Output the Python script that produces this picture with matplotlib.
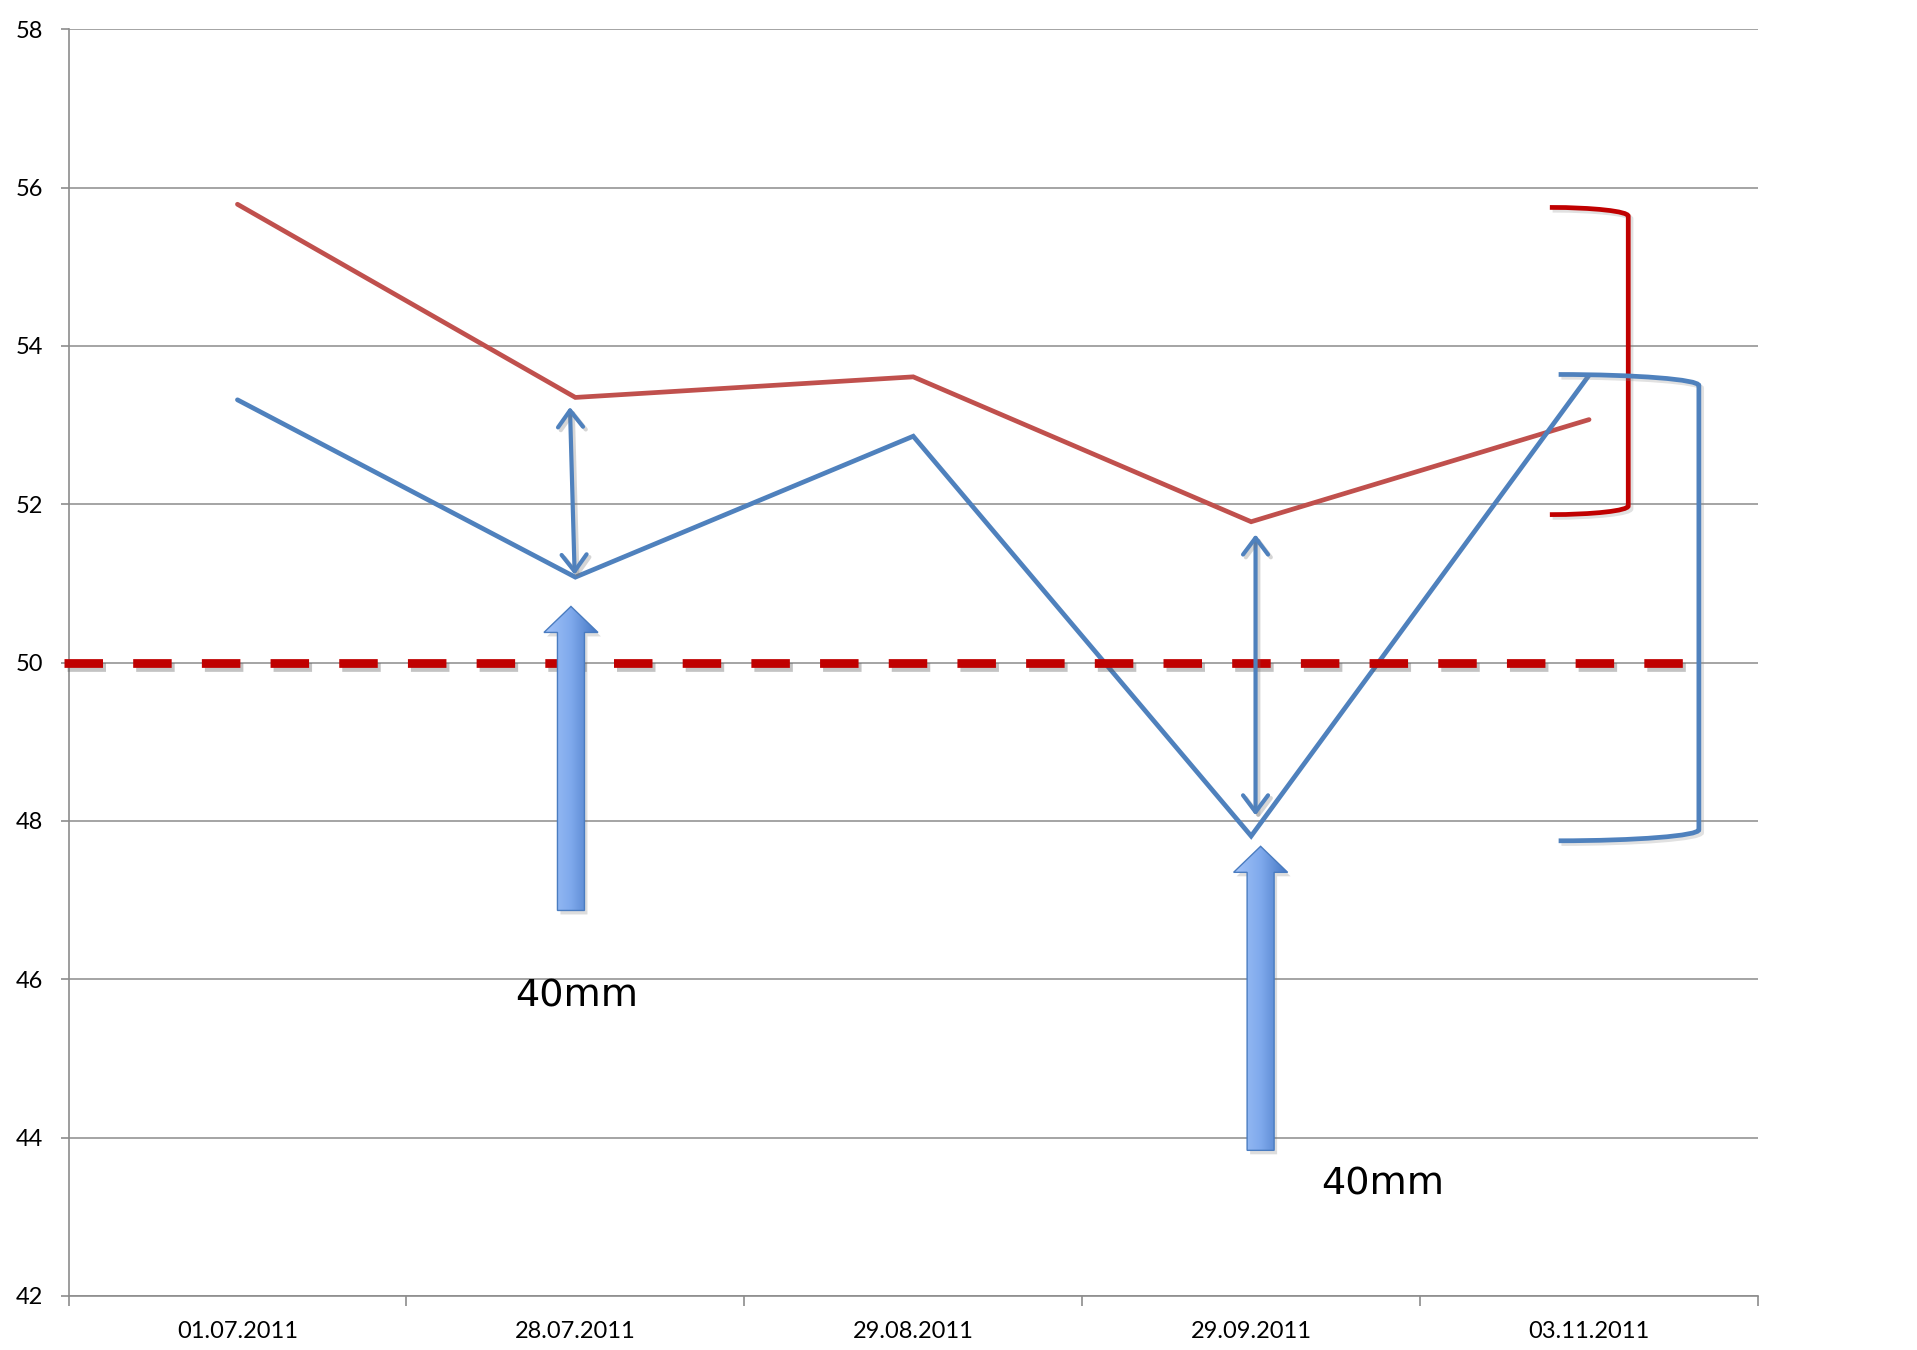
import numpy as np
import matplotlib
matplotlib.use("Agg")
import matplotlib.pyplot as plt
from matplotlib.path import Path
from matplotlib.patches import PathPatch, Polygon
from matplotlib.colors import LinearSegmentedColormap
import matplotlib.patheffects as pe

# ---- data -------------------------------------------------------------
dates = ["01.07.2011", "28.07.2011", "29.08.2011", "29.09.2011", "03.11.2011"]
red_series = [55.79, 53.35, 53.61, 51.78, 53.07]
blue_series = [53.32, 51.08, 52.86, 47.81, 53.63]
threshold = 50
y_ticks = [42, 44, 46, 48, 50, 52, 54, 56, 58]
gap_label = "40mm"

RED = "#C0504D"
BLUE = "#4F81BD"
DARK_RED = "#C00000"
GRID = "#8C8C8C"

W, H = 1917, 1350
fig = plt.figure(figsize=(W / 100, H / 100), dpi=100)
ax = fig.add_axes([68.5 / W, 54 / H, (1758 - 68.5) / W, (1296 - 29.3) / H])

x = np.arange(len(dates))
xmin, xmax = -0.5, len(dates) - 0.5
ymin, ymax = 42, 58

# pixel scale helpers for shapes sized in pixels
px_x = (1758 - 68.5) / (xmax - xmin)
px_y = (1296 - 29.3) / (ymax - ymin)

# ---- grid / axes ------------------------------------------------------
for s in ["top", "right"]:
    ax.spines[s].set_visible(False)
for s in ["left", "bottom"]:
    ax.spines[s].set_color(GRID)
    ax.spines[s].set_linewidth(1.2)
ax.set_yticks(y_ticks)
ax.yaxis.grid(True, color=GRID, linewidth=1.1)
ax.set_axisbelow(True)
ax.tick_params(axis="y", direction="out", length=6, width=1.2, color=GRID,
               pad=12, labelsize=17, labelcolor="black")
ax.set_xticks(x)
ax.set_xticklabels(dates)
ax.set_xticks(np.arange(xmin, xmax + 0.01, 1.0), minor=True)
ax.tick_params(axis="x", which="major", length=0, pad=18, labelsize=17)
ax.tick_params(axis="x", which="minor", direction="out", length=7,
               width=1.2, color=GRID)
for lab in ax.get_xticklabels() + ax.get_yticklabels():
    lab.set_fontfamily(["Lato", "DejaVu Sans"])

# ---- series -----------------------------------------------------------
ax.plot(x, red_series, color=RED, lw=3.4, solid_capstyle="round",
        solid_joinstyle="miter", zorder=4)
ax.plot(x, blue_series, color=BLUE, lw=3.4, solid_capstyle="round",
        solid_joinstyle="miter", zorder=4)

# ---- threshold dashed line -------------------------------------------
blue_brk_x = 4.325
ax.plot([xmin - 0.014, blue_brk_x], [threshold, threshold], color=DARK_RED,
        lw=6.3, dashes=(4.4, 3.45), dash_capstyle="butt", clip_on=False,
        zorder=5,
        path_effects=[pe.SimpleLineShadow(offset=(2, -3), shadow_color="#555555",
                                          alpha=0.35),
                      pe.Normal()])

# ---- double-headed gap arrows ----------------------------------------
def gap_arrow(x_top, y_top, x_bot, y_bot):
    ax.annotate("", xy=(x_top, y_top), xytext=(x_bot, y_bot),
                arrowprops=dict(arrowstyle="<->,head_length=0.6,head_width=0.45",
                                color=BLUE, lw=3.0, mutation_scale=20,
                                shrinkA=0, shrinkB=0, capstyle="round",
                                joinstyle="round",
                                path_effects=[pe.SimpleLineShadow(offset=(2, -2),
                                                                  shadow_color="#777777",
                                                                  alpha=0.3),
                                              pe.Normal()]),
                zorder=6)

gap_arrow(0.984, 53.23, 0.998, 51.11)
gap_arrow(3.013, 51.62, 3.013, 48.07)

# ---- gradient block arrows -------------------------------------------
grad = LinearSegmentedColormap.from_list("blk", ["#A2C3F8", "#7FA9EC", "#4476C2"])

def block_arrow(cx, tip, bottom):
    ws = 13.5 / px_x
    wh = 27.0 / px_x
    hl = 26.0 / px_y
    verts = [(cx - ws, bottom), (cx - ws, tip - hl), (cx - wh, tip - hl),
             (cx, tip), (cx + wh, tip - hl), (cx + ws, tip - hl),
             (cx + ws, bottom)]
    # soft shadow
    dx, dy = 3.0 / px_x, 4.0 / px_y
    shadow = Polygon([(vx + dx, vy - dy) for vx, vy in verts], closed=True,
                     facecolor="#7a7a7a", edgecolor="none", alpha=0.25, zorder=6)
    ax.add_patch(shadow)
    poly = Polygon(verts, closed=True, facecolor="none", edgecolor="none",
                   zorder=7)
    ax.add_patch(poly)
    img = ax.imshow(np.linspace(0, 1, 256).reshape(1, -1), cmap=grad,
                    extent=(cx - wh, cx + wh, bottom, tip), aspect="auto",
                    interpolation="bilinear", zorder=7)
    img.set_clip_path(poly)
    outline = Polygon(verts, closed=True, facecolor="none", edgecolor="#4A7CC0",
                      lw=1.0, zorder=8)
    ax.add_patch(outline)

block_arrow(0.987, 50.71, 46.87)
block_arrow(3.028, 47.68, 43.84)

# ---- labels -----------------------------------------------------------
ax.text(1.005, 45.66, gap_label, ha="center", va="baseline", fontsize=27.5,
        family="DejaVu Sans", color="black", zorder=9)
ax.text(3.39, 43.28, gap_label, ha="center", va="baseline", fontsize=27.5,
        family="DejaVu Sans", color="black", zorder=9)

# ---- range brackets ---------------------------------------------------
def bracket(x0, x1, top, bottom, r, color):
    w = x1 - x0
    k = 0.5523
    verts = [(x0, top),
             (x0 + k * w, top), (x1, top - r + k * r), (x1, top - r),
             (x1, bottom + r),
             (x1, bottom + r - k * r), (x0 + k * w, bottom), (x0, bottom)]
    codes = [Path.MOVETO,
             Path.CURVE4, Path.CURVE4, Path.CURVE4,
             Path.LINETO,
             Path.CURVE4, Path.CURVE4, Path.CURVE4]
    patch = PathPatch(Path(verts, codes), facecolor="none", edgecolor=color,
                      lw=3.4, capstyle="butt", zorder=5, clip_on=False)
    patch.set_path_effects([pe.SimpleLineShadow(offset=(2, -2),
                                                shadow_color="#888888",
                                                alpha=0.25),
                            pe.Normal()])
    ax.add_patch(patch)

bracket(3.884, 4.116, max(red_series) - 0.04, min(red_series) + 0.09,
        0.11, DARK_RED)
bracket(3.91, blue_brk_x, max(blue_series) + 0.01, min(blue_series) - 0.06,
        0.14, BLUE)

ax.set_xlim(xmin, xmax)
ax.set_ylim(ymin, ymax)

fig.savefig("out.png", dpi=100, facecolor="white")
